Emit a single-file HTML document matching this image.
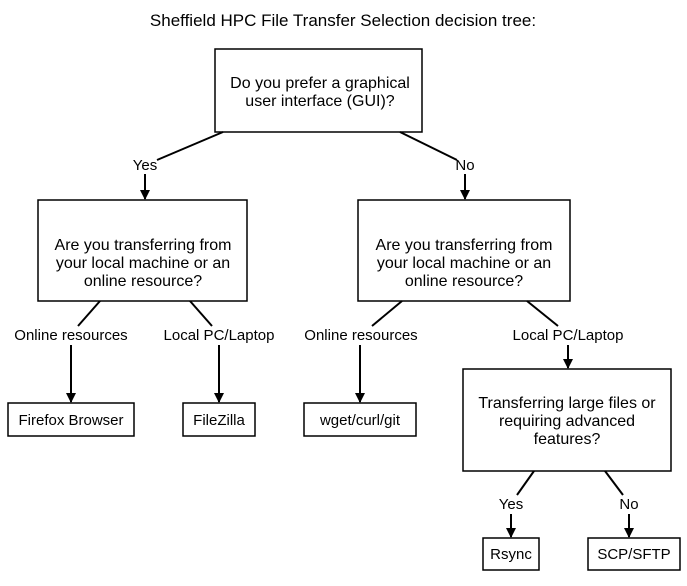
<!DOCTYPE html>
<html><head><meta charset="utf-8"><style>
html,body{margin:0;padding:0;background:#fff;width:687px;height:586px;overflow:hidden}
text{font-family:"Liberation Sans",sans-serif;font-size:15px;fill:#000}
.n{font-size:16px}
</style></head><body>
<svg width="687" height="586" viewBox="0 0 687 586" xmlns="http://www.w3.org/2000/svg">
<defs><marker id="a" markerWidth="10" markerHeight="10" refX="9" refY="5" orient="auto" markerUnits="userSpaceOnUse"><path d="M0,0 L10,5 L0,10 z" fill="#000"/></marker></defs>
<text x="343" y="26" text-anchor="middle" style="font-size:17px">Sheffield HPC File Transfer Selection decision tree:</text>
<g fill="#fff" stroke="#000" stroke-width="1.5">
<rect x="215" y="49" width="207" height="83"/>
<rect x="38" y="200" width="209" height="101"/>
<rect x="358" y="200" width="212" height="101"/>
<rect x="8" y="403" width="126" height="33"/>
<rect x="183" y="403" width="72" height="33"/>
<rect x="304" y="403" width="112" height="33"/>
<rect x="463" y="369" width="208" height="102"/>
<rect x="483" y="538" width="56" height="32"/>
<rect x="588" y="538" width="92" height="32"/>
</g>
<g stroke="#000" stroke-width="2" fill="none">
<line x1="223" y1="132" x2="157" y2="160"/>
<line x1="400" y1="132" x2="457" y2="160"/>
<line x1="100" y1="301" x2="78" y2="326"/>
<line x1="190" y1="301" x2="212" y2="326"/>
<line x1="402" y1="301" x2="372" y2="326"/>
<line x1="527" y1="301" x2="558" y2="326"/>
<line x1="534" y1="471" x2="517" y2="495"/>
<line x1="605" y1="471" x2="623" y2="495"/>
<line x1="145" y1="174" x2="145" y2="199" marker-end="url(#a)"/>
<line x1="465" y1="174" x2="465" y2="199" marker-end="url(#a)"/>
<line x1="71" y1="345" x2="71" y2="402" marker-end="url(#a)"/>
<line x1="219" y1="345" x2="219" y2="402" marker-end="url(#a)"/>
<line x1="360" y1="345" x2="360" y2="402" marker-end="url(#a)"/>
<line x1="568" y1="345" x2="568" y2="368" marker-end="url(#a)"/>
<line x1="511" y1="514" x2="511" y2="537" marker-end="url(#a)"/>
<line x1="629" y1="514" x2="629" y2="537" marker-end="url(#a)"/>
</g>
<g text-anchor="middle">
<text class="n" x="320" y="88">Do you prefer a graphical</text>
<text class="n" x="320" y="106">user interface (GUI)?</text>
<text x="145" y="170">Yes</text>
<text x="465" y="170">No</text>
<text class="n" x="143" y="250">Are you transferring from</text>
<text class="n" x="143" y="268">your local machine or an</text>
<text class="n" x="143" y="286">online resource?</text>
<text class="n" x="464" y="250">Are you transferring from</text>
<text class="n" x="464" y="268">your local machine or an</text>
<text class="n" x="464" y="286">online resource?</text>
<text x="71" y="340">Online resources</text>
<text x="219" y="340">Local PC/Laptop</text>
<text x="361" y="340">Online resources</text>
<text x="568" y="340">Local PC/Laptop</text>
<text x="71" y="425">Firefox Browser</text>
<text x="219" y="425">FileZilla</text>
<text x="360" y="425">wget/curl/git</text>
<text class="n" x="567" y="408">Transferring large files or</text>
<text class="n" x="567" y="426">requiring advanced</text>
<text class="n" x="567" y="444">features?</text>
<text x="511" y="509">Yes</text>
<text x="629" y="509">No</text>
<text x="511" y="559">Rsync</text>
<text x="634" y="559">SCP/SFTP</text>
</g>
</svg>
</body></html>
